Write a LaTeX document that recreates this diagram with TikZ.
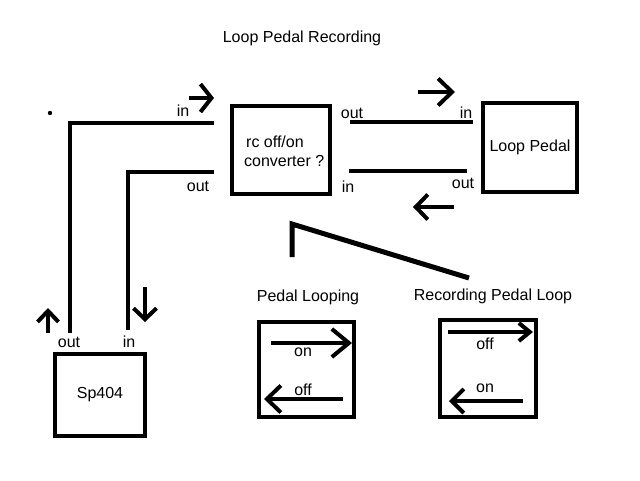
\documentclass[tikz,border=0pt]{standalone}
\usepackage{fontspec}
\setmainfont{Liberation Sans}
\usetikzlibrary{arrows.meta}
\begin{document}
\begin{tikzpicture}[x=1pt,y=-1pt,
  box/.style={draw,line width=4pt,inner sep=0pt,font=\fontsize{16}{19}\selectfont},
  lbl/.style={inner sep=0pt,font=\fontsize{16}{19}\selectfont},
  wire/.style={line width=4pt},
  arrowline/.style={line width=4pt,-{Straight Barb[length=#1]}},
  arrowline/.default={11pt 0 0,width=26pt}
]
\useasboundingbox (0,0) rectangle (640,480);
\fill[white] (0,0) rectangle (640,480);

% title
\node[lbl] (title) at (302,38) {Loop Pedal Recording};

% main boxes
\node[box,minimum width=98pt,minimum height=88pt] (rc) at (281,150) {};
\node[lbl,anchor=west] (rc1) at (246,142) {rc off/on};
\node[lbl,anchor=west] (rc2) at (244,161) {converter ?};
\node[box,minimum width=94pt,minimum height=89pt] (lp) at (530,147.5) {Loop Pedal};
\node[box,minimum width=90pt,minimum height=82pt] (sp) at (100,395) {Sp404};

% small dot
\fill (50,113) circle (2.2pt);

% wires between sp404 and rc box
\coordinate (w1a) at (70,333);
\coordinate (w1b) at (70,123);
\coordinate (w1c) at (214,123);
\draw[wire] (w1a) -- (w1b) -- (w1c);
\coordinate (w2a) at (128,330);
\coordinate (w2b) at (128,172);
\coordinate (w2c) at (214,172);
\draw[wire] (w2a) -- (w2b) -- (w2c);

% wires between rc box and loop pedal
\coordinate (w3a) at (350,122);
\coordinate (w3b) at (473,122);
\draw[wire] (w3a) -- (w3b);
\coordinate (w4a) at (349,171);
\coordinate (w4b) at (467,171);
\draw[wire] (w4a) -- (w4b);

% port labels
\node[lbl] (pin1) at (183,111) {in};
\node[lbl] (pout1) at (198,186) {out};
\node[lbl] (pout2) at (352,113) {out};
\node[lbl] (pin2) at (466,113) {in};
\node[lbl] (pin3) at (348,187) {in};
\node[lbl] (pout3) at (463,183) {out};
\node[lbl] (pout4) at (69,342) {out};
\node[lbl] (pin4) at (129,342) {in};

% direction arrows
\coordinate (d1a) at (189,98); \coordinate (d1b) at (214,98);
\draw[arrowline={11pt 0 0,width=28pt}] (d1a) -- (d1b);
\coordinate (d2a) at (418,92); \coordinate (d2b) at (455,92);
\draw[arrowline={14pt 0 0,width=27pt}] (d2a) -- (d2b);
\coordinate (d3a) at (454,207); \coordinate (d3b) at (413,207);
\draw[arrowline={12pt 0 0,width=25pt}] (d3a) -- (d3b);
\coordinate (d4a) at (48,333); \coordinate (d4b) at (48,308);
\draw[arrowline={11pt 0 0,width=21pt}] (d4a) -- (d4b);
\coordinate (d5a) at (145,287); \coordinate (d5b) at (145,322);
\draw[arrowline={11pt 0 0,width=23pt}] (d5a) -- (d5b);

% bent line
\coordinate (b1) at (292,257);
\coordinate (b2) at (292,224);
\coordinate (b3) at (469,278);
\draw[line width=5pt] (b1) -- (b2) -- (b3);

% mode labels
\node[lbl] (pl) at (308,297) {Pedal Looping};
\node[lbl] (rpl) at (493,296) {Recording Pedal Loop};

% mode boxes
\node[box,minimum width=95pt,minimum height=95pt] (m1) at (306.5,369.5) {};
\node[box,minimum width=96pt,minimum height=97pt] (m2) at (488,368.5) {};

% inside mode box 1
\coordinate (m1a) at (271,343); \coordinate (m1b) at (352,343);
\draw[arrowline={17pt 0 0,width=28pt}] (m1a) -- (m1b);
\node[lbl] (m1on) at (303,352) {on};
\coordinate (m1c) at (343,399); \coordinate (m1d) at (264,399);
\draw[arrowline={14pt 0 0,width=27pt}] (m1c) -- (m1d);
\node[lbl] (m1off) at (303,390) {off};

% inside mode box 2
\coordinate (m2a) at (448,332); \coordinate (m2b) at (533,332);
\draw[arrowline={11pt 0 0,width=18pt}] (m2a) -- (m2b);
\node[lbl] (m2off) at (485,344) {off};
\coordinate (m2c) at (523,401); \coordinate (m2d) at (449,401);
\draw[arrowline={12pt 0 0,width=24pt}] (m2c) -- (m2d);
\node[lbl] (m2on) at (485,388) {on};
\end{tikzpicture}
\end{document}
